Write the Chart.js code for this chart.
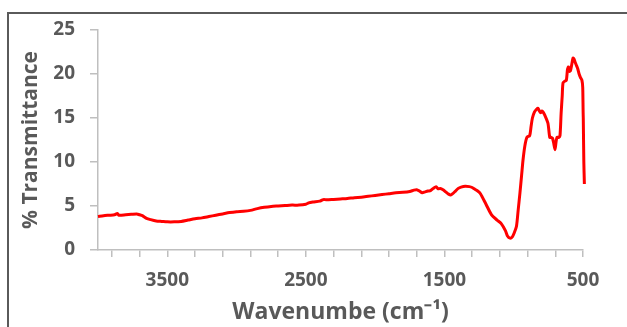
<!DOCTYPE html>
<html>
<head>
<meta charset="utf-8">
<script src="https://cdn.jsdelivr.net/npm/chart.js@4"></script>
<style>
    html, body { margin: 0; padding: 0; background: #fff; overflow: hidden; }
    #wrap { position: relative; width: 627px; height: 327px; }
    #frame {
        position: absolute; left: 7px; top: 12px; width: 700px; height: 400px;
        border-top: 2px solid #5a5a5a; border-left: 2px solid #5a5a5a;
    }
    #chart { position: absolute; left: 0; top: 0; }
</style>
</head>
<body>
<div id="wrap">
    <div id="frame"></div>
    <canvas id="chart" width="627" height="327"></canvas>
</div>
<script>
// wavenumber (cm-1) and % transmittance
const wavenumbers = [
    4000, 3960, 3920, 3880, 3860, 3850, 3800, 3760, 3720, 3700,
    3680, 3650, 3620, 3580, 3540, 3500, 3450, 3400, 3350, 3300,
    3250, 3200, 3150, 3100, 3050, 3000, 2950, 2900, 2850, 2800,
    2750, 2700, 2650, 2600, 2550, 2500, 2480, 2450, 2400, 2380,
    2370, 2350, 2300, 2250, 2200, 2150, 2100, 2050, 2000, 1950,
    1900, 1850, 1800, 1750, 1720, 1700, 1680, 1660, 1640, 1620,
    1600, 1580, 1560, 1545, 1530, 1510, 1490, 1470, 1455, 1440,
    1420, 1400, 1380, 1350, 1320, 1300, 1280, 1260, 1240, 1200,
    1160, 1120, 1090, 1060, 1045, 1027, 1010, 995, 980, 968,
    955, 943, 933, 920, 905, 885, 875, 865, 850, 835,
    825, 815, 805, 795, 789, 775, 753, 740, 730, 720,
    712, 702, 695, 688, 675, 666, 658, 650, 644, 630,
    620, 612, 605, 598, 590, 582, 572, 565, 558, 548,
    538, 528, 518, 508, 502, 498, 494, 490
];
const transmittance = [
    3.8, 3.9, 3.95, 4.0, 4.15, 3.95, 4.0, 4.05, 4.1, 4.0,
    3.9, 3.6, 3.45, 3.3, 3.25, 3.2, 3.2, 3.25, 3.4, 3.55,
    3.65, 3.8, 3.95, 4.1, 4.25, 4.35, 4.4, 4.5, 4.7, 4.85,
    4.95, 5.0, 5.05, 5.1, 5.1, 5.2, 5.35, 5.45, 5.55, 5.7,
    5.75, 5.7, 5.75, 5.8, 5.85, 5.95, 6.0, 6.1, 6.2, 6.3,
    6.4, 6.5, 6.55, 6.65, 6.8, 6.85, 6.7, 6.5, 6.6, 6.7,
    6.75, 7.0, 7.2, 6.95, 7.0, 6.85, 6.6, 6.35, 6.25, 6.4,
    6.7, 7.0, 7.15, 7.25, 7.2, 7.1, 6.9, 6.7, 6.4, 5.2,
    4.0, 3.4, 3.0, 2.2, 1.6, 1.35, 1.5, 2.0, 2.7, 4.5,
    6.5, 8.5, 10.2, 11.8, 12.8, 13.0, 14.0, 15.0, 15.7, 16.0,
    16.1, 15.8, 15.6, 15.8, 15.7, 15.3, 14.4, 12.8, 12.8, 12.7,
    12.2, 11.4, 12.2, 12.8, 12.8, 13.0, 15.5, 17.5, 19.0, 19.2,
    19.3, 20.5, 20.8, 20.3, 20.4, 21.0, 21.8, 21.7, 21.4, 21.0,
    20.6, 20.0, 19.6, 19.3, 18.5, 15.0, 10.0, 7.5
];

const xTickValues = [500, 700, 900, 1100, 1300, 1500, 1700, 1900, 2100, 2300,
                     2500, 2700, 2900, 3100, 3300, 3500, 3700, 3900];
const xLabelValues = [500, 1500, 2500, 3500];
const yTickValues = [0, 5, 10, 15, 20, 25];

const textColor = '#595959';
const axisColor = '#bfbfbf';
const fontFamily = "'Open Sans', 'Liberation Sans', sans-serif";

const points = wavenumbers.map((w, i) => ({ x: w, y: transmittance[i] }));

new Chart(document.getElementById('chart'), {
    type: 'line',
    data: {
        datasets: [{
            data: points,
            borderColor: '#ff0000',
            borderWidth: 3,
            pointRadius: 0,
            tension: 0.25,
            fill: false,
            clip: false
        }]
    },
    options: {
        responsive: false,
        animation: false,
        events: [],
        layout: { padding: { top: 30, right: 44, left: 0, bottom: 0 } },
        plugins: { legend: { display: false }, tooltip: { enabled: false } },
        scales: {
            x: {
                type: 'linear',
                reverse: true,
                min: 500,
                max: 4000,
                afterBuildTicks: scale => { scale.ticks = xTickValues.map(v => ({ value: v })); },
                afterFit: scale => { scale.height = 77; },
                grid: { drawOnChartArea: false, tickLength: 7, color: axisColor, lineWidth: 1.5 },
                border: { display: true, color: axisColor, width: 1.5 },
                ticks: {
                    autoSkip: false,
                    maxRotation: 0,
                    padding: 12,
                    color: textColor,
                    font: { family: fontFamily, size: 19, weight: 'bold' },
                    callback: v => xLabelValues.includes(v) ? String(v) : ''
                },
                title: {
                    display: true,
                    text: 'Wavenumbe (cm\u207B\u00B9)',
                    color: textColor,
                    padding: { top: 0, bottom: 1 },
                    font: { family: fontFamily, size: 23, weight: 'bold' }
                }
            },
            y: {
                min: 0,
                max: 25,
                afterBuildTicks: scale => { scale.ticks = yTickValues.map(v => ({ value: v })); },
                afterFit: scale => { scale.width = 98; },
                grid: { drawOnChartArea: false, tickLength: 8, color: axisColor, lineWidth: 1.5 },
                border: { display: true, color: axisColor, width: 1.5 },
                ticks: {
                    padding: 15,
                    color: textColor,
                    font: { family: fontFamily, size: 19, weight: 'bold' }
                },
                title: {
                    display: true,
                    text: '% Transmittance',
                    color: textColor,
                    padding: { top: 18, bottom: 0 },
                    font: { family: fontFamily, size: 21, weight: 'bold' }
                }
            }
        }
    }
});
</script>
</body>
</html>
